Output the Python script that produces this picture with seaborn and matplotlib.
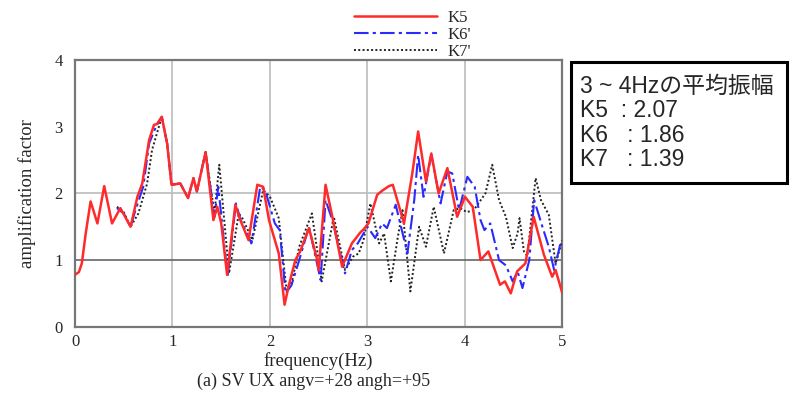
import pandas as pd
import seaborn as sns
import matplotlib
matplotlib.use("Agg")
import matplotlib.pyplot as plt
from matplotlib.patches import Rectangle

# frequency (Hz) / amplification factor
k5_freq = [0.0, 0.04, 0.07, 0.11, 0.16, 0.23, 0.30, 0.38, 0.465, 0.57, 0.64, 0.69, 0.76, 0.81,
           0.84, 0.89, 0.945, 0.99, 1.08, 1.16, 1.215, 1.25, 1.34, 1.42, 1.46, 1.50, 1.56, 1.645,
           1.69, 1.78, 1.87, 1.93, 1.99, 2.09, 2.15, 2.19, 2.26, 2.31, 2.40, 2.485, 2.50, 2.57,
           2.64, 2.74, 2.84, 2.93, 2.96, 3.01, 3.10, 3.15, 3.22, 3.26, 3.375, 3.46, 3.52, 3.60,
           3.655, 3.73, 3.82, 3.92, 4.0, 4.08, 4.16, 4.24, 4.36, 4.41, 4.47, 4.535, 4.62, 4.705,
           4.81, 4.895, 4.93, 5.0]
k5_amp = [0.78, 0.82, 0.95, 1.40, 1.88, 1.55, 2.11, 1.55, 1.78, 1.50, 1.95, 2.15, 2.80, 3.03,
          3.04, 3.15, 2.75, 2.13, 2.15, 1.93, 2.23, 2.03, 2.62, 1.60, 1.80, 1.55, 0.78, 1.83,
          1.62, 1.30, 2.13, 2.10, 1.60, 1.10, 0.33, 0.60, 1.00, 1.13, 1.48, 1.00, 0.85, 2.13,
          1.65, 0.90, 1.25, 1.42, 1.46, 1.55, 1.98, 2.04, 2.11, 2.13, 1.55, 2.30, 2.93, 2.18,
          2.60, 2.00, 2.38, 1.65, 1.95, 1.80, 1.00, 1.13, 0.63, 0.68, 0.50, 0.83, 0.95, 1.65,
          1.08, 0.75, 0.85, 0.50]

k6_freq = [0.43, 0.50, 0.57, 0.62, 0.70, 0.76, 0.83, 0.89, 0.945, 0.99, 1.08, 1.16, 1.215,
           1.25, 1.34, 1.43, 1.47, 1.565, 1.65, 1.70, 1.81, 1.90, 1.95, 2.05, 2.10, 2.16, 2.22,
           2.30, 2.40, 2.52, 2.57, 2.64, 2.77, 2.84, 2.90, 3.00, 3.08, 3.15, 3.20, 3.29, 3.41,
           3.48, 3.52, 3.575, 3.655, 3.75, 3.82, 3.87, 3.94, 4.025, 4.10, 4.16, 4.20, 4.26,
           4.35, 4.42, 4.49, 4.54, 4.59, 4.66, 4.71, 4.795, 4.86, 4.915, 4.98, 5.0]
k6_amp = [1.78, 1.70, 1.50, 1.75, 2.10, 2.75, 3.00, 3.15, 2.75, 2.13, 2.15, 1.93, 2.23,
          2.03, 2.62, 1.65, 2.10, 0.75, 1.85, 1.60, 1.25, 2.10, 2.05, 1.55, 1.45, 0.50, 0.62,
          1.00, 1.50, 0.70, 1.90, 1.60, 0.80, 1.15, 1.25, 1.50, 1.33, 1.55, 1.48, 1.83, 1.10,
          1.90, 2.58, 1.95, 2.58, 1.85, 2.33, 2.30, 1.75, 2.25, 2.10, 1.60, 1.45, 1.55,
          1.00, 0.92, 0.68, 0.83, 0.58, 1.00, 1.90, 1.50, 1.20, 0.85, 1.25, 1.28]

k7_freq = [0.43, 0.50, 0.57, 0.65, 0.74, 0.79, 0.86, 0.89, 0.945, 0.99, 1.08, 1.16, 1.215,
           1.25, 1.34, 1.43, 1.48, 1.58, 1.68, 1.72, 1.82, 1.93, 2.00, 2.09, 2.17, 2.23, 2.30,
           2.43, 2.53, 2.655, 2.77, 2.85, 2.91, 2.96, 3.03, 3.12, 3.17, 3.24, 3.31, 3.36, 3.44,
           3.53, 3.60, 3.68, 3.785, 3.885, 3.95, 4.02, 4.09, 4.21, 4.28, 4.35, 4.42, 4.49,
           4.54, 4.56, 4.605, 4.64, 4.725, 4.78, 4.86, 4.93, 5.0]
k7_amp = [1.80, 1.72, 1.50, 1.70, 2.15, 2.65, 3.00, 3.15, 2.75, 2.13, 2.15, 1.93, 2.23,
          2.03, 2.62, 1.70, 2.43, 0.80, 1.70, 1.62, 1.30, 2.05, 1.95, 1.63, 0.55, 0.70, 1.20,
          1.70, 0.68, 1.65, 0.85, 1.05, 1.10, 1.30, 1.85, 1.25, 1.40, 0.68, 1.33, 1.75, 0.53,
          1.50, 1.20, 1.80, 1.10, 1.75, 1.78, 1.72, 1.75, 2.00, 2.43, 1.90, 1.65, 1.18,
          1.40, 1.63, 1.13, 1.06, 2.23, 1.90, 1.68, 0.95, 1.30]

labels = ["K5", "K6'", "K7'"]
box_lines = ["3 ~ 4Hzの平均振幅", "K5  : 2.07", "K6   : 1.86", "K7   : 1.39"]

sns.set_style("white")
plt.rcParams["font.family"] = ["Liberation Serif", "DejaVu Serif"]

fig = plt.figure(figsize=(8.03, 3.96), dpi=100)
ax = fig.add_axes([0.0934, 0.175, 0.607, 0.673])

styles = [
    dict(color="#ff2a2a", linestyle="-", linewidth=1.8),
    dict(color="#2a2aff", linestyle=(0, (7, 2, 1.5, 2)), linewidth=1.5),
    dict(color="#222222", linestyle=(0, (1, 1.2)), linewidth=1.4),
]
series = [(k5_freq, k5_amp), (k6_freq, k6_amp), (k7_freq, k7_amp)]

# draw K7, K6 first, K5 on top
for i in [2, 1, 0]:
    fx, fy = series[i]
    df = pd.DataFrame({"freq": fx, "amp": fy})
    sns.lineplot(data=df, x="freq", y="amp", ax=ax, label=labels[i], zorder=3 + (2 - i), **styles[i])

ax.set_xlim(0, 5)
ax.set_ylim(0, 4)
ax.set_xticks([0, 1, 2, 3, 4, 5])
ax.set_yticks([0, 1, 2, 3, 4])
for v in [1, 2, 3, 4]:
    ax.axvline(v, color="#bbbbbb", linewidth=1.2, zorder=1)
ax.axhline(2, color="#bbbbbb", linewidth=1.2, zorder=1)
ax.axhline(1, color="#666666", linewidth=1.2, zorder=1)
for s in ax.spines.values():
    s.set_color("#777777")
    s.set_linewidth(1.6)
ax.tick_params(axis="x", length=0, labelsize=12, pad=5)
ax.tick_params(axis="y", length=0, labelsize=12, pad=9)
ax.set_xlabel("frequency(Hz)", fontsize=13.5, labelpad=2)
ax.set_ylabel("amplification factor", fontsize=13.5, labelpad=13)

handles, labs = ax.get_legend_handles_labels()
order = [labs.index(l) for l in labels]
ax.legend([handles[k] for k in order], labels, loc="upper left",
          bbox_to_anchor=(0.426, 1.004), bbox_transform=fig.transFigure,
          frameon=False, handlelength=5.0, labelspacing=0.05, fontsize=12,
          handletextpad=0.6, borderpad=0.2)

fig.text(0.39, 0.038, "(a) SV UX angv=+28 angh=+95", fontsize=13, ha="center", va="center")

# framed note on the right
fig.add_artist(Rectangle((571 / 803, 1 - 183 / 396), 216 / 803, 121 / 396,
                         transform=fig.transFigure, facecolor="white",
                         edgecolor="black", linewidth=2.2))
fig.text(580 / 803, 1 - 123 / 396, "\n".join(box_lines), fontsize=16.5, va="center", ha="left",
         family=["Liberation Sans", "Noto Sans CJK JP"], linespacing=1.08)

fig.savefig("out.png", dpi=100)
